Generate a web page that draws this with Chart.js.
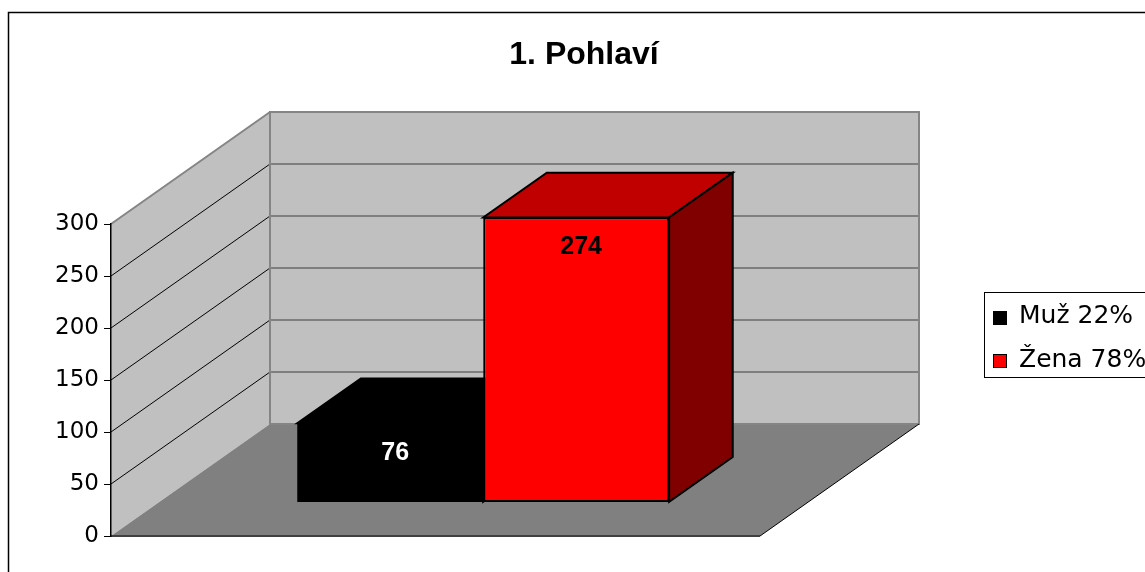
<!DOCTYPE html>
<html><head><meta charset="utf-8">
<script src="https://cdn.jsdelivr.net/npm/chart.js@4/dist/chart.umd.min.js"></script>
<style>html,body{margin:0;padding:0;background:#fff}#wrap{width:1145px;height:572px;position:relative}</style>
</head><body><div id="wrap"><canvas id="c" width="1145" height="572"></canvas></div>
<script>
// ---- data ----
const chartTitle = '1. Pohlaví';
const categories = [''];
const seriesLabels = ['Muž 22%', 'Žena 78%'];
const muzValues = [76];
const zenaValues = [274];
const yMin = 0, yMax = 300, yStep = 50;

// ---- 3D geometry (style, not data) ----
const DEPTH_X = 159, DEPTH_Y = 112;
const BAR_FRONT = 0.30, BAR_DEPTH = 0.40;

function poly(ctx, pts, fill, stroke, lw) {
  ctx.beginPath();
  ctx.moveTo(pts[0][0], pts[0][1]);
  for (let i = 1; i < pts.length; i++) ctx.lineTo(pts[i][0], pts[i][1]);
  ctx.closePath();
  if (fill) { ctx.fillStyle = fill; ctx.fill(); }
  if (stroke) { ctx.strokeStyle = stroke; ctx.lineWidth = lw || 1; ctx.lineJoin = 'miter'; ctx.stroke(); }
}
function line(ctx, x1, y1, x2, y2, color, lw) {
  ctx.beginPath(); ctx.moveTo(x1, y1); ctx.lineTo(x2, y2);
  ctx.strokeStyle = color; ctx.lineWidth = lw; ctx.stroke();
}

const threeD = {
  id: 'threeD',
  beforeDraw(chart) {
    const ctx = chart.ctx, a = chart.chartArea, y = chart.scales.y;
    const L = a.left, R = a.right, B = y.getPixelForValue(yMin), T = y.getPixelForValue(yMax);
    const dx = DEPTH_X, dy = DEPTH_Y;
    ctx.save();
    ctx.fillStyle = '#fff'; ctx.fillRect(0, 0, chart.width, chart.height);
    // outer chart border
    ctx.strokeStyle = '#000'; ctx.lineWidth = 1.5; ctx.strokeRect(8.5, 12.5, 1300, 800);
    // back wall
    poly(ctx, [[L+dx, T-dy], [R+dx, T-dy], [R+dx, B-dy], [L+dx, B-dy]], '#c0c0c0');
    // side wall
    poly(ctx, [[L, B], [L, T], [L+dx, T-dy], [L+dx, B-dy]], '#c0c0c0');
    // floor
    poly(ctx, [[L, B], [R, B], [R+dx, B-dy], [L+dx, B-dy]], '#808080');
    // gridlines
    for (let v = yMin + yStep; v < yMax; v += yStep) {
      const py = y.getPixelForValue(v);
      line(ctx, L, py, L+dx, py-dy, '#000', 1);
      line(ctx, L+dx, py-dy, R+dx, py-dy, '#6a6a6a', 1.5);
    }
    // outlines
    poly(ctx, [[L+dx, T-dy], [R+dx, T-dy], [R+dx, B-dy], [L+dx, B-dy]], null, '#858585', 2);
    line(ctx, L, T, L+dx, T-dy, '#858585', 2);
    line(ctx, R, B, R+dx, B-dy, '#000', 1);
    line(ctx, L, B, R, B, '#404040', 2);
    ctx.restore();
  },
  // bars are drawn below in dataset order, so skip the default pass
  beforeDatasetDraw() { return false; },
  afterDatasetsDraw(chart) {
    const ctx = chart.ctx;
    const ddx = DEPTH_X * BAR_DEPTH, ddy = DEPTH_Y * BAR_DEPTH;
    ctx.save();
    ctx.translate(DEPTH_X * BAR_FRONT, -DEPTH_Y * BAR_FRONT);
    chart.data.datasets.forEach((ds, di) => {
      const meta = chart.getDatasetMeta(di);
      meta.data.forEach((el, i) => {
        el.draw(ctx, chart.chartArea);
        const p = el.getProps(['x', 'y', 'base', 'width'], true);
        const l = p.x - p.width / 2, r = p.x + p.width / 2;
        poly(ctx, [[l, p.y], [r, p.y], [r+ddx, p.y-ddy], [l+ddx, p.y-ddy]], ds.topColor, '#000', 2);
        poly(ctx, [[r, p.y], [r, p.base], [r+ddx, p.base-ddy], [r+ddx, p.y-ddy]], ds.sideColor, '#000', 2);
        ctx.fillStyle = ds.labelColor;
        ctx.font = 'bold 25px "Liberation Sans", Arial, sans-serif';
        ctx.textAlign = 'center'; ctx.textBaseline = 'middle';
        ctx.fillText(String(ds.data[i]), p.x + 5, p.y + 30);
      });
    });
    ctx.restore();
  },
  afterDraw(chart) {
    const ctx = chart.ctx;
    ctx.save();
    // title
    ctx.fillStyle = '#000';
    ctx.font = 'bold 32px "Liberation Sans", Arial, sans-serif';
    ctx.textAlign = 'center'; ctx.textBaseline = 'alphabetic';
    ctx.fillText(chartTitle, 584, 64);
    // legend
    ctx.strokeStyle = '#000'; ctx.lineWidth = 1;
    ctx.strokeRect(984.5, 292.5, 200, 85);
    ctx.font = '25px "DejaVu Sans", sans-serif';
    ctx.textAlign = 'left';
    chart.data.datasets.forEach((ds, i) => {
      const sy = 311 + i * 43;
      ctx.fillStyle = ds.backgroundColor;
      ctx.fillRect(993, sy, 13, 13);
      ctx.strokeStyle = '#000'; ctx.strokeRect(993.5, sy + 0.5, 13, 13);
      ctx.fillStyle = '#000';
      ctx.fillText(ds.label, 1019, 323 + i * 44);
    });
    ctx.restore();
  }
};

new Chart(document.getElementById('c'), {
  type: 'bar',
  data: {
    labels: categories,
    datasets: [
      { label: seriesLabels[0], data: muzValues, backgroundColor: '#000000', topColor: '#000000', sideColor: '#000000', labelColor: '#ffffff', borderColor: '#000', borderWidth: 0, borderSkipped: false },
      { label: seriesLabels[1], data: zenaValues, backgroundColor: '#ff0000', topColor: '#c00000', sideColor: '#800000', labelColor: '#000000', borderColor: '#000', borderWidth: 2, borderSkipped: false }
    ]
  },
  options: {
    responsive: false,
    animation: false,
    events: [],
    layout: { padding: { left: 0, top: 224, right: 385, bottom: 36 } },
    datasets: { bar: { barPercentage: 1, categoryPercentage: 0.573 } },
    scales: {
      x: { display: false, offset: true },
      y: {
        min: yMin, max: yMax,
        ticks: { stepSize: yStep, color: '#000', padding: 5, font: { family: '"DejaVu Sans", sans-serif', size: 23 } },
        grid: { drawOnChartArea: false, drawTicks: true, tickLength: 7, color: '#000', lineWidth: 1 },
        border: { display: true, color: '#000', width: 1.5 },
        afterFit(scale) { scale.width = 111; }
      }
    },
    plugins: { legend: { display: false }, title: { display: false }, tooltip: { enabled: false } }
  },
  plugins: [threeD]
});
</script>
</body></html>
